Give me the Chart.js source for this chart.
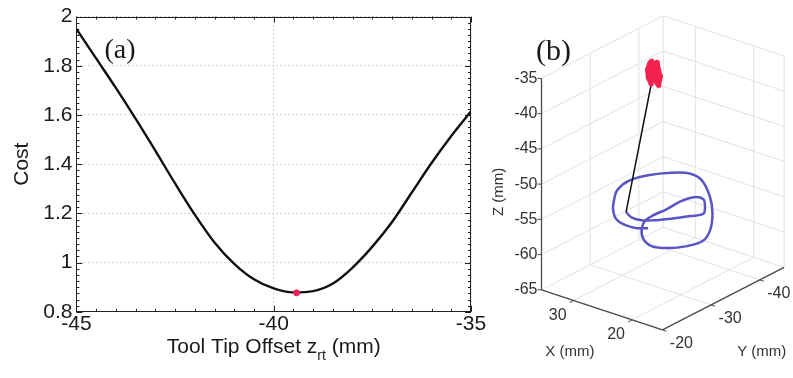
<!DOCTYPE html>
<html>
<head>
<meta charset="utf-8">
<script src="https://cdn.jsdelivr.net/npm/chart.js@4.4.1/dist/chart.umd.min.js"></script>
<style>
  body { margin: 0; background: #fff; }
  #wrap { position: relative; width: 793px; height: 378px; overflow: hidden; }
  #costChart { position: absolute; left: 0; top: 0; }
  #pathChart { position: absolute; left: 490px; top: 0; }
</style>
</head>
<body>
<div id="wrap">
  <canvas id="costChart" width="490" height="378"></canvas>
  <canvas id="pathChart" width="303" height="378"></canvas>
</div>
<script>
// (a) cost against tool tip offset
let offsetMm = [-45, -44.5, -44, -43.5, -43, -42.5, -42, -41.5, -41, -40.5, -40,
                -39.5, -39, -38.5, -38, -37.5, -37, -36.5, -36, -35.5, -35];
let costValues = [1.95, 1.83, 1.71, 1.585, 1.455, 1.322, 1.195, 1.082, 0.995, 0.932, 0.895,
                  0.879, 0.884, 0.915, 0.98, 1.065, 1.165, 1.285, 1.405, 1.515, 1.615];
let bestOffset = [-39.42];
let bestCost = [0.877];
let offsetTicks = [-45, -40, -35];
let costTicks = [0.8, 1, 1.2, 1.4, 1.6, 1.8, 2];

// (b) flange path, tool shaft and tip estimates (mm)
let flangeX = [28.15, 26.42, 24.88, 23.70, 22.17, 20.67, 19.78, 21.13, 22.75, 24.16, 24.65, 24.52,
               24.69, 24.41, 23.10, 22.38, 20.08, 18.00, 16.36, 15.79, 17.36, 19.03, 22.60, 26.75,
               29.25, 31.47, 33.31, 34.21, 33.55, 31.91, 30.03, 27.71, 25.58, 23.80, 22.62];
let flangeY = [-28.55, -27.68, -27.83, -28.74, -30.58, -32.78, -34.38, -36.33, -37.94, -37.63, -35.56, -32.40,
               -29.93, -27.93, -25.69, -25.16, -24.07, -24.90, -26.94, -29.59, -32.94, -35.35, -39.10, -42.40,
               -43.07, -41.74, -39.28, -36.36, -33.23, -30.60, -28.14, -26.03, -25.34, -25.54, -26.45];
let flangeZ = [-55, -55, -55, -55, -55, -55, -55, -55, -55, -55, -55, -55,
               -55, -55, -55, -56, -56, -56, -56, -56, -56, -55, -55, -55,
               -55, -55, -55, -55, -55, -55, -55, -55, -55, -55, -55];
let shaftX = [28.15, 25.8];
let shaftY = [-28.55, -30.9];
let shaftZ = [-55, -37];
let tipX = [25.8, 26.3, 26.5, 26.2, 25.8, 25.5, 25.3, 25.1, 25.0, 25.2, 25.6, 25.9];
let tipY = [-30.9, -30.9, -31.0, -31.1, -31.0, -31.2, -31.5, -31.6, -31.8, -31.7, -31.2, -31.0];
let tipZ = [-37.0, -36.2, -35.2, -34.2, -33.8, -34.6, -34.0, -35.2, -36.0, -37.3, -36.3, -35.5];
let xRange3d = [14.8, 35.5];
let yRange3d = [-45, -20];
let zRange3d = [-65, -35];
let xTicks3d = [20, 30];
let yTicks3d = [-20, -30, -40];
let zTicks3d = [-65, -60, -55, -50, -45, -40, -35];

Chart.defaults.font.family = '"Liberation Sans", Arial, sans-serif';
Chart.defaults.color = '#1a1a1a';

const ink = '#1a1a1a';

// box, inward ticks, axis title with subscript
const frameA = {
  id: 'frameA',
  beforeDatasetsDraw(chart) {
    const {ctx, chartArea: a, scales: {x, y}} = chart;
    ctx.save();
    ctx.strokeStyle = '#222';
    ctx.lineWidth = 1;
    const line = (x1, y1, x2, y2) => { ctx.beginPath(); ctx.moveTo(x1, y1); ctx.lineTo(x2, y2); ctx.stroke(); };
    for (let i = 0; i <= 20; i++) {
      const px = Math.round(x.getPixelForValue(-45 + i * 0.5)) + 0.5;
      const len = i % 10 === 0 ? 6 : 3;
      line(px, a.bottom, px, a.bottom - len);
      line(px, a.top, px, a.top + len);
    }
    for (let i = 0; i <= 48; i++) {
      const py = Math.round(y.getPixelForValue(0.8 + i * 0.025)) + 0.5;
      const len = i % 8 === 0 ? 6 : 3;
      line(a.left, py, a.left + len, py);
      line(a.right, py, a.right - len, py);
    }
    ctx.strokeRect(Math.round(a.left) + 0.5, Math.round(a.top) + 0.5, Math.round(a.width) - 1, Math.round(a.height) - 1);
    ctx.restore();
  },
  afterDraw(chart) {
    const {ctx, chartArea: a} = chart;
    ctx.save();
    ctx.fillStyle = ink;
    ctx.textBaseline = 'alphabetic';
    const big = '21px "Liberation Sans", Arial, sans-serif';
    const small = '14px "Liberation Sans", Arial, sans-serif';
    const head = 'Tool Tip Offset z', sub = 'rt', tail = ' (mm)';
    ctx.font = big;
    const wHead = ctx.measureText(head).width, wTail = ctx.measureText(tail).width;
    ctx.font = small;
    const wSub = ctx.measureText(sub).width;
    let sx = (a.left + a.right) / 2 - (wHead + wSub + wTail) / 2;
    const base = 353;
    ctx.font = big; ctx.fillText(head, sx, base); sx += wHead;
    ctx.font = small; ctx.fillText(sub, sx, base + 7); sx += wSub;
    ctx.font = big; ctx.fillText(tail, sx, base);
    ctx.font = '28px "Liberation Serif", "Times New Roman", serif';
    ctx.textAlign = 'center';
    ctx.textBaseline = 'middle';
    ctx.fillText('(a)', 120, 51);
    ctx.restore();
  }
};

new Chart(document.getElementById('costChart'), {
  type: 'scatter',
  data: {
    datasets: [{
      data: bestOffset.map((v, i) => ({x: v, y: bestCost[i]})),
      pointRadius: 3,
      pointBackgroundColor: '#ee2050',
      pointBorderColor: '#ee2050',
      showLine: false
    }, {
      data: offsetMm.map((v, i) => ({x: v, y: costValues[i]})),
      showLine: true,
      borderColor: '#111',
      borderWidth: 2.4,
      pointRadius: 0,
      cubicInterpolationMode: 'monotone'
    }]
  },
  options: {
    responsive: false,
    animation: false,
    events: [],
    layout: { padding: { left: 10, right: 19, top: 15, bottom: 41 } },
    plugins: { legend: { display: false }, tooltip: { enabled: false } },
    scales: {
      x: {
        type: 'linear', min: -45, max: -35,
        afterBuildTicks: s => { s.ticks = offsetTicks.map(v => ({value: v})); },
        ticks: { font: { size: 21 }, color: ink, padding: 0, maxRotation: 0, autoSkip: false, callback: v => String(v) },
        grid: { color: '#d6d6d6', lineWidth: 1, drawTicks: false },
        border: { display: false, dash: [2, 2] }
      },
      y: {
        min: 0.8, max: 2,
        afterBuildTicks: s => { s.ticks = costTicks.map(v => ({value: v})); },
        ticks: { font: { size: 21 }, color: ink, padding: 4, autoSkip: false, callback: v => String(Math.round(v * 10) / 10) },
        grid: { color: '#d6d6d6', lineWidth: 1, drawTicks: false },
        border: { display: false, dash: [2, 2] },
        title: { display: true, text: 'Cost', font: { size: 21 }, color: ink, padding: { top: 0, bottom: 4 } }
      }
    }
  },
  plugins: [frameA]
});

// simple fixed-view projection for panel (b), in page pixels
function project(X, Y, Z) {
  const u = X - xRange3d[0], v = yRange3d[1] - Y, w = Z - zRange3d[0];
  return { x: 663 - 6.0 * u + 5.0 * v, y: 333 - 1.98 * u - 2.56 * v - 7.2 * w };
}
function pts(xs, ys, zs) {
  return xs.map((v, i) => project(v, ys[i], zs[i]));
}

const box3d = {
  id: 'box3d',
  beforeDatasetsDraw(chart) {
    const {ctx, scales: {x, y}} = chart;
    const P = (X, Y, Z) => { const p = project(X, Y, Z); return [x.getPixelForValue(p.x), y.getPixelForValue(p.y)]; };
    const seg = (p, q) => { ctx.beginPath(); ctx.moveTo(p[0], p[1]); ctx.lineTo(q[0], q[1]); ctx.stroke(); };
    const [x0, x1] = xRange3d, [y0, y1] = yRange3d, [z0, z1] = zRange3d;
    ctx.save();
    ctx.strokeStyle = '#e2e2e2';
    ctx.lineWidth = 1;
    zTicks3d.forEach(z => { seg(P(x1, y1, z), P(x1, y0, z)); seg(P(x1, y0, z), P(x0, y0, z)); });
    yTicks3d.forEach(v => { seg(P(x1, v, z0), P(x1, v, z1)); seg(P(x1, v, z0), P(x0, v, z0)); });
    xTicks3d.forEach(v => { seg(P(v, y0, z0), P(v, y0, z1)); seg(P(v, y0, z0), P(v, y1, z0)); });
    seg(P(x1, y0, z0), P(x1, y0, z1));
    seg(P(x0, y0, z0), P(x0, y0, z1));
    ctx.strokeStyle = '#4a4a4a';
    ctx.lineWidth = 1.3;
    seg(P(x1, y1, z0), P(x1, y1, z1));
    seg(P(x1, y1, z0), P(x0, y1, z0));
    seg(P(x0, y1, z0), P(x0, y0, z0));
    ctx.lineWidth = 1;
    zTicks3d.forEach(z => { const p = P(x1, y1, z); seg(p, [p[0] - 4, p[1]]); });
    xTicks3d.forEach(v => seg(P(v, y1, z0), P(v, y1 + 0.8, z0)));
    yTicks3d.forEach(v => seg(P(x0, v, z0), P(x0 - 0.7, v, z0)));
    ctx.restore();
  },
  afterDraw(chart) {
    const {ctx, scales: {x, y}} = chart;
    const P = (X, Y, Z) => { const p = project(X, Y, Z); return [x.getPixelForValue(p.x), y.getPixelForValue(p.y)]; };
    const [x0, x1] = xRange3d, [y0, y1] = yRange3d, [z0] = zRange3d;
    ctx.save();
    ctx.fillStyle = '#333';
    ctx.font = '16px "Liberation Sans", Arial, sans-serif';
    ctx.textBaseline = 'middle';
    ctx.textAlign = 'right';
    zTicks3d.forEach(z => { const p = P(x1, y1, z); ctx.fillText(String(z), p[0] - 4, p[1]); });
    ctx.textAlign = 'center';
    xTicks3d.forEach(v => { const p = P(v, y1, z0); ctx.fillText(String(v), p[0] - 16, p[1] + 15); });
    yTicks3d.forEach(v => { const p = P(x0, v, z0); ctx.fillText(String(v), p[0] + 19, p[1] + 14); });
    ctx.font = '15px "Liberation Sans", Arial, sans-serif';
    ctx.fillText('X (mm)', x.getPixelForValue(568), y.getPixelForValue(355));
    ctx.fillText('Y (mm)', x.getPixelForValue(765), y.getPixelForValue(355));
    ctx.save();
    ctx.translate(x.getPixelForValue(495), y.getPixelForValue(192));
    ctx.rotate(-Math.PI / 2);
    ctx.fillText('Z (mm)', 0, 0);
    ctx.restore();
    ctx.fillStyle = ink;
    ctx.font = '30px "Liberation Serif", "Times New Roman", serif';
    ctx.fillText('(b)', x.getPixelForValue(551), y.getPixelForValue(49));
    ctx.restore();
  }
};

new Chart(document.getElementById('pathChart'), {
  type: 'scatter',
  data: {
    datasets: [{
      data: pts(tipX, tipY, tipZ),
      showLine: true,
      borderColor: '#f2214e',
      backgroundColor: '#f2214e',
      fill: 'shape',
      borderWidth: 5,
      borderJoinStyle: 'round',
      pointRadius: 2.5,
      pointBackgroundColor: '#f2214e',
      pointBorderWidth: 0
    }, {
      data: pts(shaftX, shaftY, shaftZ),
      showLine: true,
      borderColor: '#111',
      borderWidth: 1.5,
      pointRadius: 0
    }, {
      data: pts(flangeX, flangeY, flangeZ),
      showLine: true,
      borderColor: '#5a54c4',
      borderWidth: 2.5,
      pointRadius: 0,
      tension: 0.35
    }]
  },
  options: {
    responsive: false,
    animation: false,
    events: [],
    layout: { padding: 0 },
    plugins: { legend: { display: false }, tooltip: { enabled: false }, filler: { propagate: false } },
    scales: {
      x: { type: 'linear', min: 490, max: 793, display: false },
      y: { type: 'linear', min: 0, max: 378, reverse: true, display: false }
    }
  },
  plugins: [box3d]
});
</script>
</body>
</html>
